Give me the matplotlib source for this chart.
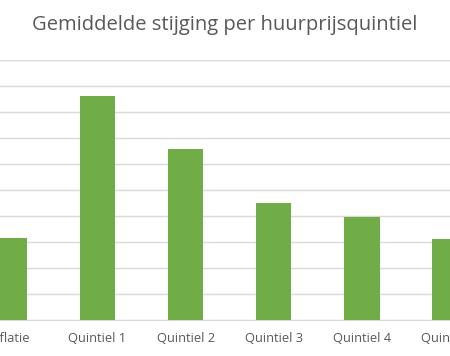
import matplotlib.pyplot as plt

# categories and values (in units of one gridline step)
categories = ["Inflatie", "Quintiel 1", "Quintiel 2", "Quintiel 3", "Quintiel 4", "Quintiel 5"]
values = [1.58, 4.31, 3.29, 2.25, 1.98, 1.56]

plt.rcParams["font.family"] = ["Open Sans", "DejaVu Sans"]

fig = plt.figure(figsize=(4.5, 3.56), dpi=100)
ax = fig.add_axes([0, 0.1011, 1, 0.7303])

x = list(range(len(categories)))
ax.bar(x, values, width=0.4, color="#70AD47", zorder=3)

ax.set_xlim(-0.107, 4.876)
ax.set_ylim(0, 5)
ax.set_yticks([i * 0.5 for i in range(11)])
ax.set_yticklabels([])
ax.set_xticks(x)
ax.set_xticklabels(categories, color="#595959", fontsize=9.3)
ax.tick_params(axis="both", length=0)
ax.tick_params(axis="x", pad=8.5)

ax.grid(axis="y", color="#D9D9D9", linewidth=1, zorder=0)
for side in ["left", "right", "top"]:
    ax.spines[side].set_visible(False)
ax.spines["bottom"].set_color("#D9D9D9")

fig.text(0.5, 0.93, "Gemiddelde stijging per huurprijsquintiel",
         ha="center", va="center", fontsize=14.5, color="#595959")

fig.savefig("out.png", dpi=100)
